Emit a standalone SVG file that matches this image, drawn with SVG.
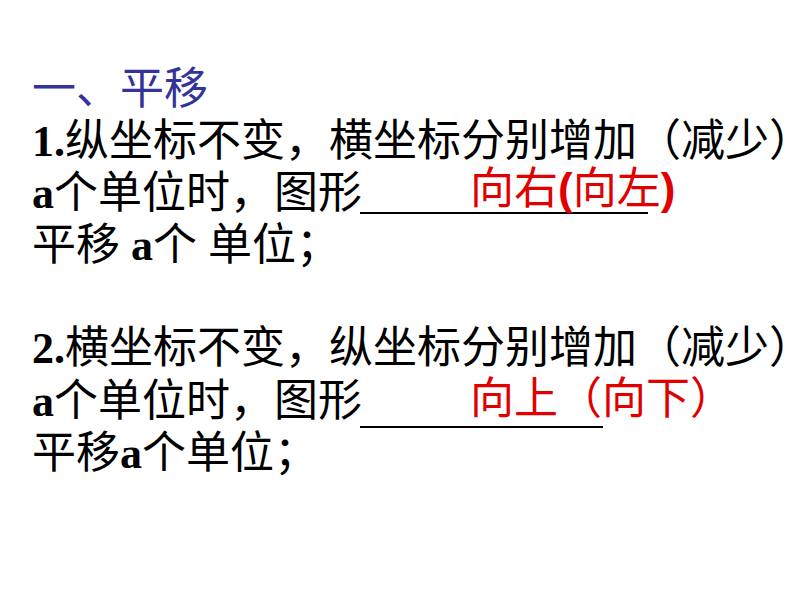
<svg xmlns="http://www.w3.org/2000/svg" width="794" height="596" viewBox="0 0 794 596">
<style>
text{font-family:"Liberation Serif","Noto Sans CJK SC",serif;font-size:44px;fill:#000}
.b{font-family:"Liberation Serif",serif;font-weight:bold}
.t{fill:#333399}
.r{fill:#e00000;font-family:"Liberation Sans","Noto Sans CJK SC",sans-serif}
</style>
<rect width="794" height="596" fill="#fff"/>
<g id="title"><text class="t" x="32" y="104">一、平移</text></g>
<g id="item1">
<text x="32" y="156"><tspan class="b">1.</tspan>纵坐标不变，横坐标分别增加（减少）</text>
<text x="32" y="208"><tspan class="b">a</tspan>个单位时，图形</text>
<line x1="360" y1="213" x2="648" y2="213" stroke="#000" stroke-width="2"/>
<text class="r" x="470" y="204">向右<tspan font-weight="bold">(</tspan>向左<tspan font-weight="bold">)</tspan></text>
<text x="32" y="260">平移 <tspan class="b">a</tspan>个 单位；</text>
</g>
<g id="item2">
<text x="32" y="363"><tspan class="b">2.</tspan>横坐标不变，纵坐标分别增加（减少）</text>
<text x="32" y="416"><tspan class="b">a</tspan>个单位时，图形</text>
<line x1="360" y1="427" x2="603" y2="427" stroke="#000" stroke-width="2"/>
<text class="r" x="470" y="414">向上（向下）</text>
<text x="32" y="468">平移<tspan class="b">a</tspan>个单位；</text>
</g>
</svg>
